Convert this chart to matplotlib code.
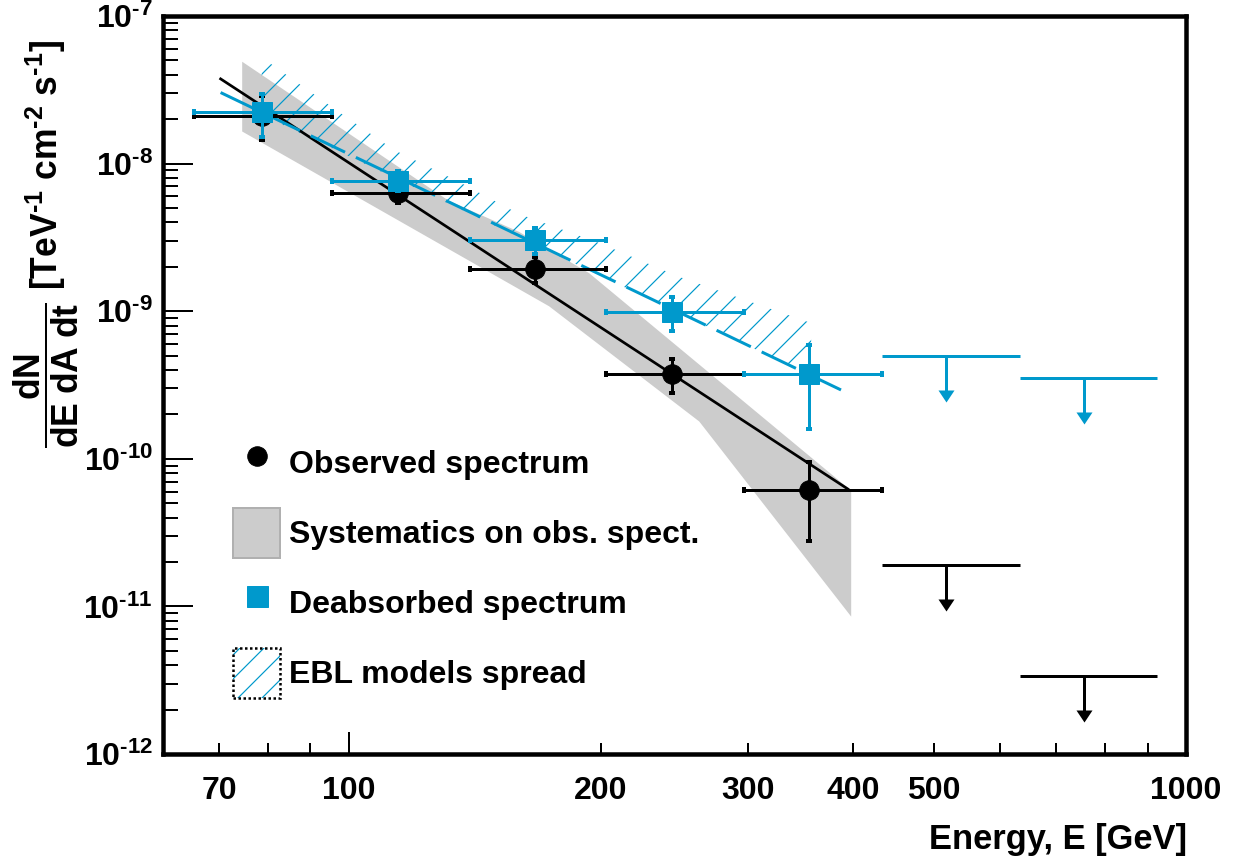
import numpy as np
import matplotlib
matplotlib.use("Agg")
import matplotlib.pyplot as plt
from matplotlib.lines import Line2D
from matplotlib.patches import Patch
from matplotlib.ticker import FixedLocator, FuncFormatter, LogLocator, NullFormatter
from matplotlib.legend_handler import HandlerTuple

# ---------------- data ----------------
bin_lo = [65.4, 95.6, 139.7, 203.1, 296.5]
bin_hi = [95.6, 139.7, 203.1, 296.5, 433.2]
energy = [78.7, 114.6, 166.9, 243.0, 355.0]

obs_flux = [2.10e-8, 6.34e-9, 1.93e-9, 3.75e-10, 6.15e-11]
obs_flux_hi = [2.85e-8, 6.95e-9, 2.33e-9, 4.74e-10, 9.46e-11]
obs_flux_lo = [1.44e-8, 5.42e-9, 1.56e-9, 2.79e-10, 2.76e-11]

deab_flux = [2.24e-8, 7.64e-9, 3.04e-9, 9.86e-10, 3.75e-10]
deab_flux_hi = [2.96e-8, 8.93e-9, 3.67e-9, 1.25e-9, 5.86e-10]
deab_flux_lo = [1.52e-8, 6.53e-9, 2.45e-9, 7.30e-10, 1.59e-10]

ul_bin_lo = [433.2, 633.0]
ul_bin_hi = [633.0, 922.6]
ul_energy = [517.0, 755.5]
obs_ul = [1.91e-11, 3.38e-12]
deab_ul = [4.97e-10, 3.54e-10]

obs_fit_E = [70.3, 394.6]
obs_fit_F = [3.75e-8, 6.24e-11]
deab_fit_E = [70.3, 395.7]
deab_fit_F = [3.03e-8, 2.76e-10]

sys_upper_E = [74.6, 131.7, 159.7, 193.7, 398.2]
sys_upper_F = [4.90e-8, 5.59e-9, 3.45e-9, 1.81e-9, 6.08e-11]
sys_lower_E = [74.6, 173.5, 262.2, 398.2]
sys_lower_F = [1.65e-8, 1.08e-9, 1.79e-10, 8.53e-12]

ebl_upper_E = [78.7, 97.3, 113.2, 135.4, 159.7, 199.1, 248.1, 356.7]
ebl_upper_F = [5.25e-8, 2.24e-8, 1.24e-8, 7.52e-9, 4.56e-9, 2.90e-9, 1.71e-9, 8.31e-10]
ebl_lower_E = [78.7, 356.7]
ebl_lower_F = [2.14e-8, 3.65e-10]

x_major = [100, 1000]
x_minor = [70, 80, 90, 200, 300, 400, 500, 600, 700, 800, 900]
x_minor_labeled = [70, 200, 300, 400, 500]

legend_labels = ["Observed spectrum", "Systematics on obs. spect.",
                 "Deabsorbed spectrum", "EBL models spread"]

# ---------------- style ----------------
BLUE = "#0099cc"
GRAY = "#cccccc"
plt.rcParams["font.family"] = ["Liberation Sans", "DejaVu Sans"]
plt.rcParams["font.weight"] = "bold"
plt.rcParams["mathtext.fontset"] = "custom"
plt.rcParams["mathtext.rm"] = "Liberation Sans:bold"
plt.rcParams["mathtext.it"] = "Liberation Sans:bold"
plt.rcParams["mathtext.bf"] = "Liberation Sans:bold"
plt.rcParams["mathtext.sf"] = "Liberation Sans:bold"
plt.rcParams["axes.linewidth"] = 4.5
plt.rcParams["lines.scale_dashes"] = False
plt.rcParams["hatch.linewidth"] = 1.2

W, H = 1241, 860
fig = plt.figure(figsize=(W / 72, H / 72), dpi=72)
ax = fig.add_axes([163 / W, (H - 754) / H, (1186 - 163) / W, (754 - 16) / H])
ax.set_xscale("log")
ax.set_yscale("log")
ax.set_xlim(60, 1000)
ax.set_ylim(1e-12, 1e-7)

# systematics band
ax.fill(list(sys_upper_E) + list(sys_lower_E[::-1]),
        list(sys_upper_F) + list(sys_lower_F[::-1]),
        facecolor=GRAY, edgecolor="none", zorder=1)
# EBL spread (hatched)
ax.fill(list(ebl_upper_E) + list(ebl_lower_E[::-1]),
        list(ebl_upper_F) + list(ebl_lower_F[::-1]),
        facecolor="none", edgecolor=BLUE, lw=0, hatch="/", zorder=1.5)

# fits
ax.plot(obs_fit_E, obs_fit_F, color="black", lw=2.7, zorder=2)
ax.plot(deab_fit_E, deab_fit_F, color=BLUE, lw=3, ls=(0, (38, 12)), zorder=2.5)

e = np.array(energy)
xerr = [e - np.array(bin_lo), np.array(bin_hi) - e]

of = np.array(obs_flux)
ax.errorbar(e, of, xerr=xerr,
            yerr=[of - np.array(obs_flux_lo), np.array(obs_flux_hi) - of],
            fmt="o", color="black", ms=19.5, elinewidth=3, capsize=3,
            capthick=4, zorder=3)
df = np.array(deab_flux)
ax.errorbar(e, df, xerr=xerr,
            yerr=[df - np.array(deab_flux_lo), np.array(deab_flux_hi) - df],
            fmt="s", color=BLUE, ms=20.5, elinewidth=3, capsize=3,
            capthick=4, zorder=4)

# upper limits
ARROW_DEC = 46.5 / 147.7
HEAD_DEC = 12.0 / 147.7
head = [(-1, 1.5), (1, 1.5), (0, 0), (-1, 1.5)]
for vals, col in ((obs_ul, "black"), (deab_ul, BLUE)):
    for lo, hi, xa, y in zip(ul_bin_lo, ul_bin_hi, ul_energy, vals):
        ax.plot([lo, hi], [y, y], color=col, lw=3, solid_capstyle="butt", zorder=3)
        ax.plot([xa, xa], [y, y * 10 ** (-(ARROW_DEC - HEAD_DEC) - 0.01)],
                color=col, lw=3, solid_capstyle="butt", zorder=3)
        ax.plot([xa], [y * 10 ** (-ARROW_DEC)], marker=head, ms=24,
                color=col, mew=0, ls="none", zorder=3)

# ticks
ax.xaxis.set_major_locator(FixedLocator(x_major))
ax.xaxis.set_major_formatter(FuncFormatter(lambda v, p: "%d" % round(v)))
ax.xaxis.set_minor_locator(FixedLocator(x_minor))
ax.xaxis.set_minor_formatter(FuncFormatter(
    lambda v, p: ("%d" % round(v)) if round(v) in x_minor_labeled else ""))
ax.yaxis.set_major_locator(FixedLocator([1e-12, 1e-11, 1e-10, 1e-9, 1e-8, 1e-7]))
ax.yaxis.set_major_formatter(FuncFormatter(
    lambda v, p: r"$10^{\text{-}%d}$" % round(-np.log10(v))))
ax.yaxis.set_minor_locator(LogLocator(base=10, subs=np.arange(2, 10), numticks=20))
ax.yaxis.set_minor_formatter(NullFormatter())
ax.tick_params(which="both", direction="in", top=False, right=False, labelsize=32)
ax.tick_params(axis="y", which="major", length=30, width=2, pad=10)
ax.tick_params(axis="y", which="minor", length=15, width=2)
ax.tick_params(axis="x", which="major", length=22, width=2, pad=22)
ax.tick_params(axis="x", which="minor", length=11, width=2, pad=22)

# legend
handles = [
    Line2D([], [], ls="none", marker="o", color="black", ms=19.5),
    Patch(facecolor=GRAY, edgecolor="#b0b0b0", lw=2),
    Line2D([], [], ls="none", marker="s", color=BLUE, ms=21),
    (Patch(facecolor="none", edgecolor=BLUE, lw=0, hatch="/"),
     Patch(facecolor="none", edgecolor="black", lw=2.5, ls=(0, (2.5, 2.5)))),
]
ax.legend(handles, legend_labels, loc="upper left",
          bbox_to_anchor=((233.3 - 163) / 1023, (754 - 438.3) / 738),
          frameon=False, borderpad=0, borderaxespad=0,
          handlelength=47 / 32, handleheight=2.027, handletextpad=0.26,
          labelspacing=0.625, fontsize=32,
          handler_map={tuple: HandlerTuple(ndivide=1, pad=0)})

# axis titles
fig.text(1187 / W, 1 - 839 / H, "Energy, E [GeV]", ha="right", va="center",
         fontsize=34.5, fontweight="bold")
fig.text(46 / W, 1 - 40 / H,
         r"$\dfrac{dN}{dE\;dA\;dt}$ [TeV$^{\text{-}1}$ cm$^{\text{-}2}$ s$^{\text{-}1}$]",
         rotation=90, ha="center", va="top", fontsize=35.5, fontweight="bold")

fig.savefig("out.png", dpi=72)
